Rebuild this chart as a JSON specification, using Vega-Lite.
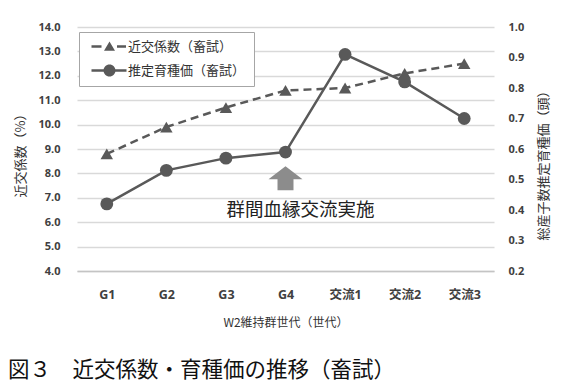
{
  "$schema": "https://vega.github.io/schema/vega-lite/v6.json",
  "width": 417,
  "height": 244,
  "autosize": {"type": "none"},
  "padding": {"left": 77, "top": 27, "right": 73, "bottom": 116},
  "background": "white",
  "config": {"view": {"stroke": null}, "font": "Noto Sans CJK JP"},
  "title": {
    "text": "図３　近交係数・育種価の推移（畜試）",
    "orient": "bottom",
    "anchor": "start",
    "frame": "group",
    "fontSize": 21.5,
    "fontWeight": "normal",
    "font": "Noto Sans CJK JP",
    "color": "#111111",
    "dx": -69,
    "offset": 32
  },
  "data": {
    "values": [
      {"gen": "G1", "series": "近交係数（畜試）", "value": 8.8},
      {"gen": "G2", "series": "近交係数（畜試）", "value": 9.9},
      {"gen": "G3", "series": "近交係数（畜試）", "value": 10.7},
      {"gen": "G4", "series": "近交係数（畜試）", "value": 11.4},
      {"gen": "交流1", "series": "近交係数（畜試）", "value": 11.5},
      {"gen": "交流2", "series": "近交係数（畜試）", "value": 12.1},
      {"gen": "交流3", "series": "近交係数（畜試）", "value": 12.5},
      {"gen": "G1", "series": "推定育種価（畜試）", "value": 0.42},
      {"gen": "G2", "series": "推定育種価（畜試）", "value": 0.53},
      {"gen": "G3", "series": "推定育種価（畜試）", "value": 0.57},
      {"gen": "G4", "series": "推定育種価（畜試）", "value": 0.59},
      {"gen": "交流1", "series": "推定育種価（畜試）", "value": 0.91},
      {"gen": "交流2", "series": "推定育種価（畜試）", "value": 0.82},
      {"gen": "交流3", "series": "推定育種価（畜試）", "value": 0.70}
    ]
  },
  "layer": [
    {
      "encoding": {
        "x": {
          "field": "gen",
          "type": "ordinal",
          "sort": ["G1", "G2", "G3", "G4", "交流1", "交流2", "交流3"],
          "scale": {"type": "point", "padding": 0.5},
          "axis": {
            "labelAngle": 0,
            "ticks": false,
            "tickSize": 0,
            "domain": true,
            "domainColor": "#c4c4c4",
            "domainWidth": 1.5,
            "labelPadding": 17,
            "labelFont": "Open Sans, Noto Sans CJK JP",
            "labelFontWeight": "bold",
            "labelFontSize": 12.5,
            "labelColor": "#404040",
            "title": "W2維持群世代（世代）",
            "titleFont": "Noto Sans CJK JP",
            "titleFontSize": 12,
            "titleFontWeight": "normal",
            "titleColor": "#333333",
            "titleY": 51,
            "titleBaseline": "middle"
          }
        },
        "y": {
          "field": "value",
          "type": "quantitative",
          "scale": {"domain": [4, 14], "nice": false, "zero": false},
          "axis": {
            "values": [4, 5, 6, 7, 8, 9, 10, 11, 12, 13, 14],
            "format": ".1f",
            "grid": true,
            "gridColor": "#d9d9d9",
            "gridWidth": 1.5,
            "domain": false,
            "ticks": false,
            "tickSize": 0,
            "labelPadding": 17,
            "labelFont": "Open Sans",
            "labelFontWeight": "bold",
            "labelFontSize": 11,
            "labelColor": "#404040",
            "title": "近交係数（%）",
            "titleFont": "Noto Sans CJK JP",
            "titleFontSize": 13,
            "titleFontWeight": "normal",
            "titleColor": "#333333",
            "titleAngle": 270,
            "titleX": -57,
            "titleY": 125,
            "titleBaseline": "middle",
            "titleAlign": "center"
          }
        }
      },
      "layer": [
        {
          "transform": [{"filter": "datum.series === '近交係数（畜試）'"}],
          "mark": {"type": "line", "color": "#595959", "strokeWidth": 2.5, "strokeDash": [8, 5]}
        },
        {
          "transform": [{"filter": "datum.series === '近交係数（畜試）'"}],
          "mark": {"type": "point", "filled": true, "shape": "triangle-up", "size": 155, "color": "#595959", "opacity": 1}
        },
        {
          "mark": {"type": "point", "filled": true, "size": 0, "color": "#595959", "opacity": 1, "clip": true},
          "encoding": {
            "shape": {
              "field": "series",
              "type": "nominal",
              "scale": {
                "domain": ["近交係数（畜試）", "推定育種価（畜試）"],
                "range": [
                  "M-3.6,-0.25L-1.6,-0.25L-1.6,0.25L-3.6,0.25ZM1.5,-0.25L3.3,-0.25L3.3,0.25L1.5,0.25ZM0,-1L1.1,0.85L-1.1,0.85Z",
                  "M-3.6,-0.25L3.4,-0.25L3.4,0.25L-3.6,0.25ZM1.2,0A1.2,1.2 0 1,1 -1.2,0A1.2,1.2 0 1,1 1.2,0Z"
                ]
              },
              "legend": {
                "orient": "none",
                "legendX": 2,
                "legendY": 5,
                "title": null,
                "strokeColor": "#a6a6a6",
                "fillColor": "white",
                "padding": 8,
                "rowPadding": 10,
                "labelFont": "Noto Sans CJK JP",
                "labelFontSize": 13,
                "labelColor": "#333333",
                "symbolSize": 100,
                "symbolOffset": 16,
                "labelOffset": 12,
                "symbolOpacity": 1,
                "symbolFillColor": "#595959",
                "symbolStrokeWidth": 0
              }
            }
          }
        },
        {
          "data": {"values": [{"gen": "G4", "value": 7.8}]},
          "mark": {
            "type": "point",
            "filled": true,
            "shape": "M0,-0.71L1,0.06L0.47,0.06L0.47,0.71L-0.47,0.71L-0.47,0.06L-1,0.06Z",
            "size": 1156,
            "color": "#8c8c8c",
            "opacity": 1
          }
        },
        {
          "data": {"values": [{"gen": "G4", "value": 6.5, "label": "群間血縁交流実施"}]},
          "mark": {"type": "text", "dx": 15, "fontSize": 18.5, "font": "Noto Sans CJK JP", "fontWeight": "normal", "color": "#222222", "align": "center", "baseline": "middle"},
          "encoding": {"text": {"field": "label"}}
        }
      ]
    },
    {
      "transform": [{"filter": "datum.series === '推定育種価（畜試）'"}],
      "encoding": {
        "x": {
          "field": "gen",
          "type": "ordinal",
          "sort": ["G1", "G2", "G3", "G4", "交流1", "交流2", "交流3"],
          "scale": {"type": "point", "padding": 0.5}
        },
        "y": {
          "field": "value",
          "type": "quantitative",
          "scale": {"domain": [0.2, 1.0], "nice": false, "zero": false},
          "axis": {
            "orient": "right",
            "values": [0.2, 0.3, 0.4, 0.5, 0.6, 0.7, 0.8, 0.9, 1.0],
            "format": ".1f",
            "grid": false,
            "domain": false,
            "ticks": false,
            "tickSize": 0,
            "labelPadding": 14,
            "labelFont": "Open Sans",
            "labelFontWeight": "bold",
            "labelFontSize": 11,
            "labelColor": "#404040",
            "title": "総産子数推定育種価（頭）",
            "titleFont": "Noto Sans CJK JP",
            "titleFontSize": 13,
            "titleFontWeight": "normal",
            "titleColor": "#333333",
            "titleAngle": 270,
            "titleX": 49,
            "titleY": 135,
            "titleBaseline": "middle",
            "titleAlign": "center"
          }
        }
      },
      "layer": [
        {"mark": {"type": "line", "color": "#595959", "strokeWidth": 2.5}},
        {"mark": {"type": "point", "filled": true, "shape": "circle", "size": 165, "color": "#595959", "opacity": 1}}
      ]
    }
  ],
  "resolve": {"scale": {"y": "independent"}}
}
